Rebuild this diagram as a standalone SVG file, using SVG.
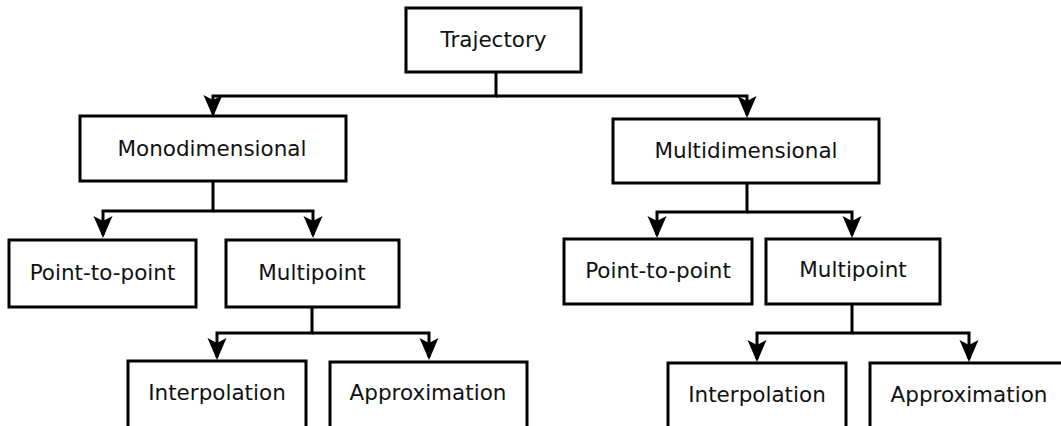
<svg xmlns="http://www.w3.org/2000/svg" width="1061" height="426" viewBox="0 0 1061 426">
<style>
.box{fill:#fff;stroke:#000;stroke-width:3}
.lbl{font-family:"DejaVu Sans",sans-serif;font-size:21.5px;fill:#111;text-anchor:middle}
.con{fill:none;stroke:#000;stroke-width:3;marker-end:url(#ah)}
</style>
<defs>
<marker id="ah" viewBox="-21 -11 25 22" refX="0" refY="0" markerWidth="25" markerHeight="22" markerUnits="userSpaceOnUse" orient="auto">
<path d="M3,0 L-19,-9.5 L-14,0 L-19,9.5 Z" fill="#000"/>
</marker>
</defs>
<rect width="1061" height="426" fill="#fff"/>
<g id="connectors">
<path class="con" d="M496,72 V96 H213 V114"/>
<path class="con" d="M496,96 H747 V115"/>
<path class="con" d="M213,181 V211 H103 V235"/>
<path class="con" d="M213,211 H313 V235"/>
<path class="con" d="M312,307 V333 H217 V357"/>
<path class="con" d="M312,333 H429 V357"/>
<path class="con" d="M747,183 V212 H657 V235"/>
<path class="con" d="M747,212 H852 V235"/>
<path class="con" d="M852,304 V333 H757 V359"/>
<path class="con" d="M852,333 H969 V359"/>
</g>
<g id="trajectory"><rect class="box" x="406" y="8" width="175" height="64"/><text class="lbl" x="493.5" y="47">Trajectory</text></g>
<g id="monodimensional"><rect class="box" x="80" y="116" width="266" height="65"/><text class="lbl" x="212" y="156">Monodimensional</text></g>
<g id="multidimensional"><rect class="box" x="613" y="119" width="266" height="64"/><text class="lbl" x="746" y="158">Multidimensional</text></g>
<g id="mono-p2p"><rect class="box" x="9" y="240" width="187" height="67"/><text class="lbl" x="102.5" y="280">Point-to-point</text></g>
<g id="mono-multipoint"><rect class="box" x="226" y="240" width="173" height="67"/><text class="lbl" x="312" y="280">Multipoint</text></g>
<g id="mono-interpolation"><rect class="box" x="128" y="361" width="178" height="80"/><text class="lbl" x="217" y="400">Interpolation</text></g>
<g id="mono-approximation"><rect class="box" x="330" y="362" width="197" height="80"/><text class="lbl" x="428" y="400">Approximation</text></g>
<g id="multi-p2p"><rect class="box" x="564" y="239" width="188" height="65"/><text class="lbl" x="658" y="278">Point-to-point</text></g>
<g id="multi-multipoint"><rect class="box" x="766" y="239" width="174" height="65"/><text class="lbl" x="853" y="277">Multipoint</text></g>
<g id="multi-interpolation"><rect class="box" x="668" y="363" width="178" height="80"/><text class="lbl" x="757" y="402">Interpolation</text></g>
<g id="multi-approximation"><rect class="box" x="870" y="363" width="200" height="80"/><text class="lbl" x="969" y="402">Approximation</text></g>
</svg>
